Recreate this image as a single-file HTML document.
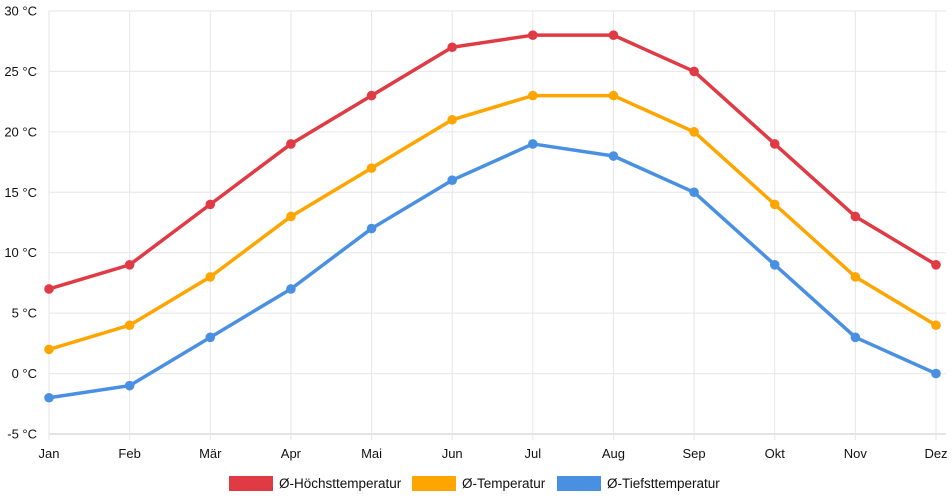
<!DOCTYPE html>
<html><head><meta charset="utf-8"><style>
html,body{margin:0;padding:0;background:#fff;}
svg{display:block;font-family:"Liberation Sans",sans-serif;}
</style></head><body>
<svg id="chart" width="952" height="500" xmlns="http://www.w3.org/2000/svg">
<g id="grid"></g>
<g id="axes"></g>
<g id="series"></g>
<g id="legend"></g>
</svg>
<script>
const categories=["Jan","Feb","Mär","Apr","Mai","Jun","Jul","Aug","Sep","Okt","Nov","Dez"];
const highValues=[7,9,14,19,23,27,28,28,25,19,13,9];
const avgValues=[2,4,8,13,17,21,23,23,20,14,8,4];
const lowValues=[-2,-1,3,7,12,16,19,18,15,9,3,0];
const yTicks=[-5,0,5,10,15,20,25,30];
const seriesNames=["Ø-Höchsttemperatur","Ø-Temperatur","Ø-Tiefsttemperatur"];

const NS="http://www.w3.org/2000/svg";
const x0=49,x1=936,yTop=11,yBot=434,yMin=-5,yMax=30;
const xs=i=>x0+(x1-x0)*i/(categories.length-1);
const ys=v=>yBot-(v-yMin)/(yMax-yMin)*(yBot-yTop);
function mk(t,a,p){const e=document.createElementNS(NS,t);for(const k in a)e.setAttribute(k,a[k]);p.appendChild(e);return e;}
const grid=document.getElementById('grid'),axes=document.getElementById('axes'),ser=document.getElementById('series'),leg=document.getElementById('legend');
yTicks.forEach(v=>{
  const l=mk('line',{x1:x0,x2:x1+10,y1:ys(v),y2:ys(v),stroke:v===yMin?'#c8c8c8':'#e6e6e6','stroke-width':1},grid);
  
  
  const t=mk('text',{x:37,y:ys(v)+4.5,'text-anchor':'end','font-size':13,fill:'#111'},axes);
  t.textContent=v+' °C';
  
  
});
categories.forEach((c,i)=>{
  const l=mk('line',{x1:xs(i),x2:xs(i),y1:yTop,y2:yBot+6,stroke:'#e6e6e6','stroke-width':1},grid);
  
  
  const t=mk('text',{x:xs(i),y:458,'text-anchor':'middle','font-size':13,fill:'#111'},axes);
  t.textContent=c;
  
  
});
const all=[[highValues,'#e03a45','high'],[avgValues,'#ffa500','avg'],[lowValues,'#4a90e2','low']];
all.forEach(([vals,col,n])=>{
  const p=mk('polyline',{points:vals.map((v,i)=>xs(i)+','+ys(v)).join(' '),fill:'none',stroke:col,'stroke-width':3.5,'stroke-linejoin':'round'},ser);
  
  
  vals.forEach((v,i)=>{
    const c=mk('circle',{cx:xs(i),cy:ys(v),r:4.8,fill:col},ser);
    
    
  });
});
const lx=[229,412,557];
all.forEach(([v,col,n],k)=>{
  const r=mk('rect',{x:lx[k],y:476,width:44,height:15,fill:col},leg);
  
  
  const t=mk('text',{x:lx[k]+50,y:488,'font-size':13.5,fill:'#111'},leg);
  t.textContent=seriesNames[k];
  
  
});
</script>
</body></html>
